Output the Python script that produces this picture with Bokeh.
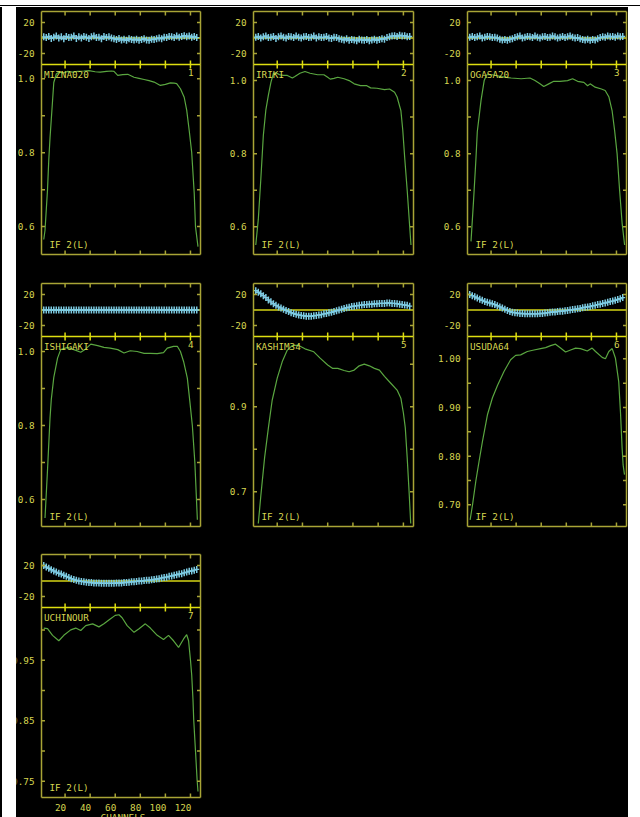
import math
from bokeh.plotting import figure
from bokeh.models import Range1d, Label, Spacer
from bokeh.layouts import column, row
from bokeh.embed import file_html
from bokeh.resources import INLINE

# ------------------------------------------------------------------ data
stations = ["MIZNA020", "IRIKI", "OGASA20", "ISHIGAKI", "KASHIM34", "USUDA64", "UCHINOUR"]
panel_numbers = ["1", "2", "3", "4", "5", "6", "7"]
if_label = "IF 2(L)"
x_tick_values = [20, 40, 60, 80, 100, 120]
x_tick_labels = ["20", "40", "60", "80", "100", "120"]
x_axis_title = "CHANNELS"
phase_ticks = [-20, 20]
phase_tick_labels = ["-20", "20"]

phase_channels = list(range(3, 127, 2))

phase_1 = [1.5, 0.5, 2.0, -0.5, 1.0, 2.5, 0.0, 1.5, -1.0, 2.0, 0.5, 1.0, 2.5, -0.5, 1.5, 0.0, 2.0, 1.0, -0.5, 1.5,
           2.5, 0.5, 1.0, -1.0, 2.0, 0.5, 1.5, 0.0,
           -1.0, -2.0, -0.5, -2.5, -1.5, -3.0, -1.0, -2.0, -2.5, -1.5, -3.0, -2.0, -1.0, -2.5, -3.0, -1.5, -2.0, -1.0,
           0.0, -1.0, 1.0, 0.5, 2.0, 1.5, 0.5, 2.5, 1.0, 2.0, 3.0, 1.5, 2.5, 1.0, 2.0, 0.5]
phase_2 = [1.0, 2.0, 0.0, 1.5, 2.5, 0.5, 1.0, 2.0, -0.5, 1.5, 2.5, 1.0, 0.0, 2.0, 1.5, 0.5, 2.5, 1.0, 0.0, 1.5,
           2.0, 0.5, 1.0, 2.5, 0.0, 1.5, 0.5, 1.0, 2.0, 0.0, -0.5, 1.0, 0.5, -1.0,
           -1.5, -2.5, -1.0, -3.0, -2.0, -2.5, -3.5, -1.5, -2.5, -3.0, -2.0, -3.5, -2.5, -1.5, -3.0, -2.0, -1.0, -1.5,
           0.5, 1.5, 2.5, 3.0, 2.0, 3.5, 2.5, 3.0, 1.5, 2.0]
phase_3 = [1.0, 2.0, 0.5, 1.5, 2.5, 0.0, 1.0, 2.0, 1.5, 0.5, 1.0, 0.0,
           -1.5, -2.5, -2.0, -3.0, -1.5, -1.0,
           0.5, 1.5, 2.5, 0.0, 1.0, 2.0, 1.5, 0.5, 2.5, 1.0, 0.0, 1.5, 2.0, 0.5, 1.0, 2.5, 1.5, 0.0, 1.0, 2.0,
           0.5, 1.5, 2.5, 1.0, 0.0, 0.5,
           -1.0, -2.0, -2.5, -1.5, -3.0, -2.0, -2.5, -1.0,
           0.5, 1.5, 1.0, 2.5, 1.5, 2.0, 1.0, 2.5, 1.5, 2.0]
phase_4 = [0.0, 0.0, 0.0, 0.0, 0.0, 0.0, 0.0, 0.0, 0.0, 0.0,
           0.0, 0.0, 0.0, 0.0, 0.0, 0.0, 0.0, 0.0, 0.0, 0.0,
           0.0, 0.0, 0.0, 0.0, 0.0, 0.0, 0.0, 0.0, 0.0, 0.0,
           0.0, 0.0, 0.0, 0.0, 0.0, 0.0, 0.0, 0.0, 0.0, 0.0,
           0.0, 0.0, 0.0, 0.0, 0.0, 0.0, 0.0, 0.0, 0.0, 0.0,
           0.0, 0.0, 0.0, 0.0, 0.0, 0.0, 0.0, 0.0, 0.0, 0.0,
           0.0, 0.0]
phase_5 = [25, 23, 21, 18.5, 16, 13, 10.5, 8, 6, 4, 2.5, 1, -0.5, -2, -3.5, -4.5, -5.5, -6.5, -7, -7.5,
           -8, -8, -8, -7.5, -7, -6.5, -6, -5, -4.5, -3.5, -3, -2, -1, 0, 1, 2, 3, 3.5, 4.5, 5,
           5.5, 6, 6.5, 7, 7, 7.5, 7.5, 8, 8, 8.5, 8.5, 8.5, 9, 9, 8.5, 8.5, 8, 7.5, 7, 6.5, 6, 5]
phase_6 = [20, 18.5, 17, 15.5, 14, 12.5, 11, 10, 9, 8, 7, 5.5, 4, 2.5, 1, -0.5, -2, -3, -3.5, -4,
           -4.5, -4.5, -5, -5, -5, -5, -5, -5, -4.5, -4.5, -4, -3.5, -3, -2.5, -2.5, -2, -1.5, -1.5, -1, -0.5,
           0, 0.5, 1, 1.5, 2, 3, 3.5, 4, 4.5, 5.5, 6, 7, 7.5, 8.5, 9, 10, 11, 11.5, 12.5, 13.5, 14.5, 16]
phase_7 = [20, 18, 16.5, 14.5, 13, 11.5, 10, 9, 7.5, 6, 4.5, 3, 2, 1, 0, -0.5, -1, -1.5, -2, -2,
           -2.5, -2.5, -2.5, -3, -3, -3, -3, -3, -3, -2.5, -2.5, -2.5, -2, -2, -1.5, -1, -1, -0.5, 0, 0,
           0.5, 1, 1, 1.5, 2, 2.5, 3, 4, 4.5, 5, 6, 6.5, 7.5, 8, 9, 9.5, 10.5, 11.5, 12.5, 13, 14, 15]

amp_ch_1 = [3, 4, 6, 7, 8, 9, 10, 11, 13, 15, 19, 22, 26, 30, 35, 39, 44, 48, 53, 57, 59, 62, 66, 70, 75, 79, 83,
            87, 91, 96, 100, 104, 107, 109, 112, 115, 117, 119, 121, 123, 124, 126]
amp_1 = [0.565, 0.59, 0.70, 0.78, 0.84, 0.89, 0.94, 0.99, 1.013, 1.018, 1.016, 1.020, 1.018, 1.020, 1.021, 1.022,
         1.019, 1.018, 1.020, 1.021, 1.020, 1.009, 1.011, 1.012, 1.004, 1.001, 0.998, 0.995, 0.991, 0.982, 0.985,
         0.989, 0.988, 0.987, 0.973, 0.950, 0.915, 0.860, 0.800, 0.690, 0.600, 0.546]
amp_ch_2 = [3, 5, 7, 9, 11, 13, 15, 17, 19, 22, 25, 28, 32, 34, 38, 42, 46, 52, 57, 60, 62, 65, 68, 73, 77, 81,
            86, 91, 94, 99, 105, 109, 113, 115, 118, 119.5, 121, 123, 125, 126]
amp_2 = [0.55, 0.62, 0.73, 0.85, 0.92, 0.96, 0.995, 1.02, 1.021, 1.016, 1.014, 1.014, 1.007, 1.011, 1.020, 1.025,
         1.020, 1.016, 1.016, 1.009, 1.004, 1.006, 1.009, 1.005, 1.000, 0.991, 0.986, 0.986, 0.980, 0.979, 0.975,
         0.977, 0.968, 0.955, 0.918, 0.864, 0.790, 0.700, 0.600, 0.550]
amp_ch_3 = [4, 6, 8, 9, 12, 14.5, 16.5, 21, 28, 36, 44, 51, 55, 59, 62, 66, 70, 75, 81, 85, 89, 94, 97, 99, 103,
            108, 111, 114, 116.5, 118.5, 120.5, 122.5, 124.5, 126.5]
amp_3 = [0.56, 0.67, 0.79, 0.86, 0.946, 1.0, 1.016, 1.016, 1.011, 1.007, 1.005, 1.007, 1.0, 0.991, 0.984, 0.991,
         0.998, 0.998, 1.0, 1.005, 0.998, 0.995, 0.986, 0.991, 0.982, 0.977, 0.973, 0.955, 0.918, 0.864, 0.80,
         0.70, 0.61, 0.55]
amp_ch_4 = [4, 6, 8, 9, 11, 14, 16.5, 22, 27, 32.5, 36.5, 40.5, 46, 51, 56, 62, 67, 72, 77.5, 83, 88, 93.5, 98.5,
            101.5, 106.5, 109.5, 112, 114.5, 117.5, 119.5, 121.5, 123.5, 125.5]
amp_4 = [0.55, 0.68, 0.82, 0.87, 0.93, 0.982, 1.005, 1.011, 1.005, 0.998, 1.007, 1.020, 1.016, 1.011, 1.009, 1.005,
         0.996, 1.002, 1.000, 0.995, 0.995, 0.994, 0.997, 1.009, 1.014, 1.014, 1.000, 0.973, 0.928, 0.865, 0.80,
         0.70, 0.545]
amp_ch_5 = [5, 7, 10, 13, 16, 20, 24, 28, 32, 37, 42, 49, 54, 60, 64, 68, 73, 77, 81, 85, 89, 93, 97, 101, 105,
            110, 115, 118, 120, 121.5, 123, 124.5, 125.8]
amp_5 = [0.625, 0.69, 0.78, 0.85, 0.915, 0.967, 1.006, 1.033, 1.044, 1.044, 1.036, 1.029, 1.014, 0.998, 0.990,
         0.990, 0.985, 0.982, 0.986, 0.996, 1.000, 0.996, 0.990, 0.986, 0.971, 0.955, 0.939, 0.920, 0.885, 0.850,
         0.780, 0.700, 0.625]
amp_ch_6 = [3.3, 5.2, 7.8, 10.4, 13.1, 17.1, 21.1, 25.1, 30.3, 35.6, 39.6, 43.6, 48.9, 54.2, 59.5, 63.5, 67.5,
            71.4, 75.4, 79.4, 83.4, 87.4, 91.3, 96.7, 100.6, 103.3, 108.6, 111.2, 113.9, 116.6, 119.2, 121.8,
            123.2, 124.5, 125.3, 126.4]
amp_6 = [0.669, 0.700, 0.748, 0.789, 0.830, 0.885, 0.920, 0.945, 0.974, 0.998, 1.007, 1.008, 1.015, 1.018, 1.021,
         1.023, 1.027, 1.030, 1.022, 1.014, 1.018, 1.022, 1.021, 1.016, 1.022, 1.015, 1.003, 1.000, 1.015, 1.021,
         1.001, 0.953, 0.890, 0.817, 0.782, 0.762]
amp_ch_7 = [3, 6, 10, 15, 19, 24.5, 28.5, 32.5, 36.5, 42, 47, 51, 56, 60, 63, 65.5, 69.5, 75, 79, 84, 88, 93.5,
            98.5, 102.5, 106.5, 110.5, 114.5, 117, 118.5, 120, 121, 122, 122.6, 124, 125.3, 126]
amp_7 = [1.003, 1.002, 0.991, 0.982, 0.991, 1.000, 1.003, 0.999, 1.007, 1.010, 1.005, 1.010, 1.018, 1.024, 1.025,
         1.020, 1.007, 0.996, 1.002, 1.010, 1.003, 0.991, 0.984, 0.991, 0.982, 0.971, 0.985, 0.992, 0.982, 0.950,
         0.925, 0.885, 0.851, 0.800, 0.752, 0.733]

amp_ranges = [(0.5245, 1.0386), (0.524, 1.044), (0.524, 1.044), (0.527, 1.0405),
              (0.618, 1.065), (0.6555, 1.0458), (0.723, 1.037)]
amp_ticks = [[0.6, 0.7, 0.8, 0.9, 1.0], [0.6, 0.7, 0.8, 0.9, 1.0], [0.6, 0.7, 0.8, 0.9, 1.0],
             [0.6, 0.7, 0.8, 0.9, 1.0], [0.7, 0.8, 0.9, 1.0],
             [0.70, 0.75, 0.80, 0.85, 0.90, 0.95, 1.00], [0.75, 0.80, 0.85, 0.90, 0.95, 1.00]]
amp_label_values = [[0.6, 0.8, 1.0], [0.6, 0.8, 1.0], [0.6, 0.8, 1.0], [0.6, 0.8, 1.0],
                    [0.7, 0.9], [0.70, 0.80, 0.90, 1.00], [0.75, 0.85, 0.95]]
amp_label_texts = [["0.6", "0.8", "1.0"], ["0.6", "0.8", "1.0"], ["0.6", "0.8", "1.0"], ["0.6", "0.8", "1.0"],
                   ["0.7", "0.9"], ["0.70", "0.80", "0.90", "1.00"], ["0.75", "0.85", "0.95"]]

phases = [phase_1, phase_2, phase_3, phase_4, phase_5, phase_6, phase_7]
amp_chs = [amp_ch_1, amp_ch_2, amp_ch_3, amp_ch_4, amp_ch_5, amp_ch_6, amp_ch_7]
amps = [amp_1, amp_2, amp_3, amp_4, amp_5, amp_6, amp_7]

# ------------------------------------------------------------------ style / layout
FONT = "DejaVu Sans Mono"
FS = "9.3px"
TEXT_C = "#d6d650"
BOX_C = "#a8a436"
DIV_C = "#dede10"
ZERO_C = "#d4d414"
AMP_C = "#5aa640"
PH_MARK_C = "#7ccbe2"
PH_LINE_C = "#c47cc4"

X0, X1 = 1.2, 128.0
P0, P1 = -34.2, 34.2
FRAME_W = [159, 160, 159]
BORDER_L = [25, 25, 29]
BORDER_R = [28, 25, 2]
PH_H = 53
AMP_H = 190
PH_TOP = [4, 15, 15]
AMP_BOTTOM = [14, 13, 30]
XT = 4.0   # x tick length, px
YT = 3.5   # y tick length, px


def text(p, x, y, s, align="left", baseline="middle", rng="default"):
    p.add_layout(Label(x=x, y=y, text=s, text_font=FONT, text_font_size=FS, text_color=TEXT_C,
                       text_align=align, text_baseline=baseline, y_range_name=rng))


def build(i, c, r):
    fw, bl, br = FRAME_W[c], BORDER_L[c], BORDER_R[c]
    W = bl + fw + br
    H = PH_TOP[r] + PH_H + AMP_H + AMP_BOTTOM[r]
    pxc = fw / (X1 - X0)
    a0, a1 = amp_ranges[i]
    ppa = AMP_H / (a1 - a0)
    ppp = PH_H / (P1 - P0)
    p = figure(width=W, height=H,
               x_range=Range1d(X0 - bl / pxc, X1 + br / pxc),
               y_range=Range1d(a0 - AMP_BOTTOM[r] / ppa, a1 + (PH_TOP[r] + PH_H) / ppa),
               extra_y_ranges={"phase": Range1d(P0 - (AMP_H + AMP_BOTTOM[r]) / ppp, P1 + PH_TOP[r] / ppp)},
               x_axis_location=None, y_axis_location=None, toolbar_location=None, output_backend="svg",
               min_border=0, background_fill_color="black", border_fill_color="black",
               outline_line_color=None)
    p.grid.grid_line_color = None

    # ---- phase panel
    p.segment(x0=[X0], y0=[0], x1=[X1], y1=[0], line_color=ZERO_C, line_width=1.3, y_range_name="phase")
    p.line(phase_channels, phases[i], line_color=PH_LINE_C, line_width=1, y_range_name="phase")
    p.scatter(phase_channels, phases[i], marker="dash", size=7, angle=math.pi / 2,
              line_color=PH_MARK_C, line_width=1.5, y_range_name="phase")
    p.scatter(phase_channels, phases[i], marker="dash", size=5, line_color=PH_MARK_C, line_width=1.4,
              y_range_name="phase")
    p.multi_line(xs=[[X0, X0], [X1, X1], [X0, X1]], ys=[[P0, P1], [P0, P1], [P1, P1]],
                 line_color=BOX_C, line_width=1.5, y_range_name="phase")
    ty = phase_ticks
    p.segment(x0=[X0] * len(ty), y0=ty, x1=[X0 + YT / pxc] * len(ty), y1=ty,
              line_color=BOX_C, line_width=1.5, y_range_name="phase")
    p.segment(x0=[X1 - YT / pxc] * len(ty), y0=ty, x1=[X1] * len(ty), y1=ty,
              line_color=BOX_C, line_width=1.5, y_range_name="phase")
    tx = x_tick_values
    n = len(tx)
    p.segment(x0=tx, y0=[P1] * n, x1=tx, y1=[P1 - XT / ppp] * n,
              line_color=BOX_C, line_width=1.5, y_range_name="phase")
    p.segment(x0=tx, y0=[P0] * n, x1=tx, y1=[P0 + XT / ppp] * n,
              line_color=DIV_C, line_width=1.5, y_range_name="phase")
    for v, s in zip(phase_ticks, phase_tick_labels):
        text(p, X0 - 7 / pxc, v, s, align="right", rng="phase")

    # ---- amplitude panel
    p.line(amp_chs[i], amps[i], line_color=AMP_C, line_width=1.2)
    p.multi_line(xs=[[X0, X0], [X1, X1], [X0, X1]], ys=[[a0, a1], [a0, a1], [a0, a0]],
                 line_color=BOX_C, line_width=1.5)
    ta = amp_ticks[i]
    m = len(ta)
    p.segment(x0=[X0] * m, y0=ta, x1=[X0 + YT / pxc] * m, y1=ta, line_color=BOX_C, line_width=1.5)
    p.segment(x0=[X1 - YT / pxc] * m, y0=ta, x1=[X1] * m, y1=ta, line_color=BOX_C, line_width=1.5)
    p.segment(x0=tx, y0=[a1] * n, x1=tx, y1=[a1 - XT / ppa] * n, line_color=DIV_C, line_width=1.5)
    p.segment(x0=tx, y0=[a0] * n, x1=tx, y1=[a0 + XT / ppa] * n, line_color=BOX_C, line_width=1.5)
    # divider between the two panels
    p.segment(x0=[X0], y0=[a1], x1=[X1], y1=[a1], line_color=DIV_C, line_width=1.6)

    for v, s in zip(amp_label_values[i], amp_label_texts[i]):
        text(p, X0 - 7 / pxc, v, s, align="right")
    text(p, X0 + 2.5 / pxc, a1 - 4 / ppa, stations[i], align="left", baseline="top")
    text(p, X1 - 7 / pxc, a1 - 4 / ppa, panel_numbers[i], align="right", baseline="top")
    text(p, X0 + 8 / pxc, a0 + 10 / ppa, if_label, align="left", baseline="alphabetic")
    if r == 2 and c == 0:
        for v, s in zip(x_tick_values, x_tick_labels):
            text(p, v + 1 / pxc, a0 - 9.5 / ppa, s, align="right", baseline="middle")
        text(p, (X0 + X1) / 2 + 2 / pxc, a0 - 14.5 / ppa, x_axis_title, align="center", baseline="top")
    return p


BLACK = {"background-color": "black"}
cells = {(0, 0): 0, (0, 1): 1, (0, 2): 2, (1, 0): 3, (1, 1): 4, (1, 2): 5, (2, 0): 6}
cols = []
for c in range(3):
    width = BORDER_L[c] + FRAME_W[c] + BORDER_R[c]
    items = []
    for r in range(3):
        if (r, c) in cells:
            items.append(build(cells[(r, c)], c, r))
        else:
            items.append(Spacer(width=width, height=PH_TOP[r] + PH_H + AMP_H + AMP_BOTTOM[r], styles=BLACK))
    cols.append(column(*items, spacing=0, styles=BLACK))

total_h = sum(PH_TOP) + 3 * (PH_H + AMP_H) + sum(AMP_BOTTOM)
left_bar = Spacer(width=16, height=total_h,
                  styles={"background": "linear-gradient(to right, black 0px, black 2px, white 2px, white 16px)"})
top_bar = Spacer(width=640, height=7,
                 styles={"background": "linear-gradient(to bottom, white 0px, white 5px, black 5px, black 6px, white 6px, white 7px)"})

root = column(top_bar, row(left_bar, *cols, spacing=0), spacing=0)

open("out.html", "w").write(file_html(root, INLINE))
